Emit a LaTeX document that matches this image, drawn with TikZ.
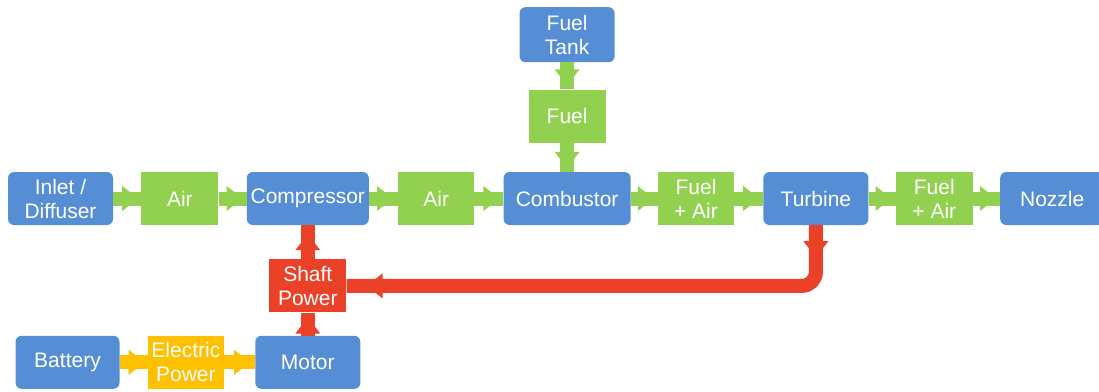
\documentclass[tikz,border=0pt]{standalone}
\usepackage{fontspec}
\setmainfont{Liberation Sans}
\usetikzlibrary{positioning,arrows.meta,decorations.markings}
\definecolor{blockblue}{HTML}{558ED5}
\definecolor{airgreen}{HTML}{92D050}
\definecolor{powerred}{HTML}{EA4128}
\definecolor{elecyellow}{HTML}{FFC000}
\begin{document}
\begin{tikzpicture}[x=1pt,y=1pt,
    every node/.style={text=white, align=center, inner sep=0pt, minimum height=53pt,
      font=\fontsize{21}{24}\selectfont},
    unit/.style={fill=blockblue, rounded corners=6pt},
    stream/.style={fill=#1, minimum width=77pt},
    flow/.style={draw=#1, color=#1, line width=14pt},
    tipat/.style={postaction={decorate, decoration={markings,
      mark=at position #1 with {\arrow{Triangle[length=16pt,width=25pt,line width=0pt]}}}}}]
            \clip (0,0) rectangle (1099,-391);
            \node (inlet) [unit, minimum width=105pt] at (60.5,-198.5) {Inlet /\\Diffuser};
            \node (air1) [stream=airgreen, right=28pt of inlet] {Air};
            \node (comp) [unit, minimum width=122pt, right=28pt of air1] {Compressor};
            \node (air2) [stream=airgreen, minimum width=76pt, right=29pt of comp] {Air};
            \node (comb) [unit, minimum width=127pt, right=29pt of air2] {Combustor};
            \node (mix1) [stream=airgreen, minimum width=76pt, right=27pt of comb] {Fuel\\+ Air};
            \node (turb) [unit, minimum width=105pt, right=29pt of mix1] {Turbine};
            \node (mix2) [stream=airgreen, right=27pt of turb] {Fuel\\+ Air};
            \node (nozz) [unit, minimum width=104pt, right=27pt of mix2] {Nozzle};
            \node (fuel) [stream=airgreen, above=29pt of comb] {Fuel};
            \node (tank) [unit, minimum width=95pt, minimum height=55pt, above=27pt of fuel] {Fuel\\Tank};
            \node (shaft) [stream=powerred, below=34pt of comp] {Shaft\\Power};
            \node (motor) [unit, minimum width=105pt, below=23pt of shaft] {Motor};
            \node (elec) [stream=elecyellow, minimum width=76pt, left=31pt of motor] {Electric\\Power};
            \node (batt) [unit, minimum width=104pt, left=28pt of elec] {Battery};

            \draw[flow=airgreen, tipat=-3pt] (inlet) -- (air1);
            \draw[flow=airgreen, tipat=-4pt] (air1) -- (comp);
            \draw[flow=airgreen, tipat=-5pt] (comp) -- (air2);
            \draw[flow=airgreen, tipat=-4pt] (air2) -- (comb);
            \draw[flow=airgreen, tipat=-4pt] (comb) -- (mix1);
            \draw[flow=airgreen, tipat=-4pt] (mix1) -- (turb);
            \draw[flow=airgreen, tipat=-4pt] (turb) -- (mix2);
            \draw[flow=airgreen, tipat=-4pt] (mix2) -- (nozz);
            \draw[flow=airgreen, tipat=-4pt] (tank) -- (fuel);
            \draw[flow=airgreen, tipat=-4pt] (fuel) -- (comb);
            \draw[flow=elecyellow, tipat=-3pt] (batt) -- (elec);
            \draw[flow=elecyellow, tipat=-5pt] (elec) -- (motor);
            \draw[flow=powerred, tipat=-5pt] (motor) -- (shaft);
            \draw[flow=powerred, tipat=-9pt] (shaft) -- (comp);
            \draw[flow=powerred, rounded corners=14pt, tipat=32pt, tipat=-20pt] (turb.south) |- (shaft.east);
        \end{tikzpicture}
\end{document}
